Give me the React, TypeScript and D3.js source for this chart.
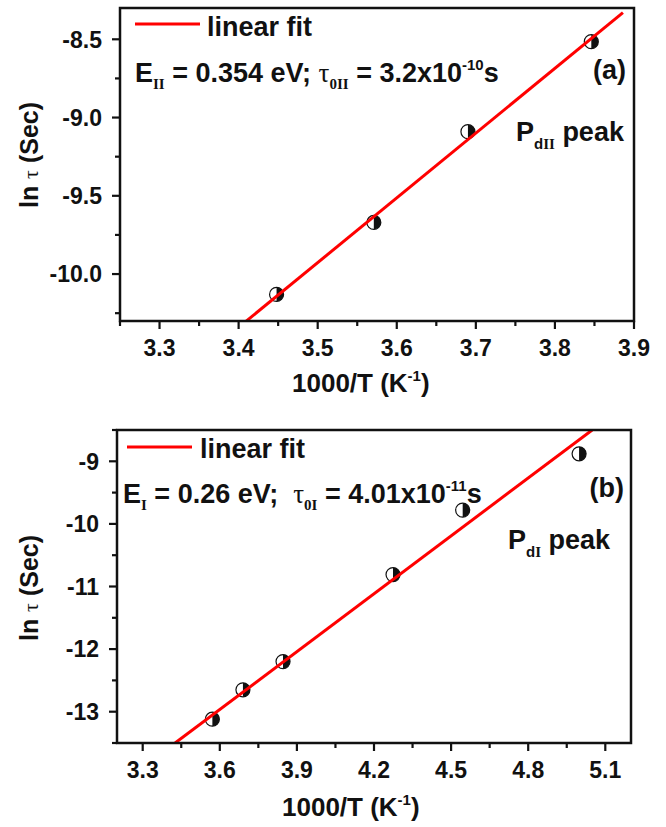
import React from "react";
import * as d3 from "d3";

// ---------- Data ----------
const topX = [3.448, 3.571, 3.69, 3.846];
const topY = [-10.13, -9.67, -9.09, -8.515];
const topFitX = [3.405, 3.886];
const topFitY = [-10.32, -8.33];
const topXTicks = [3.3, 3.4, 3.5, 3.6, 3.7, 3.8, 3.9];
const topXMinor = [3.25, 3.35, 3.45, 3.55, 3.65, 3.75, 3.85];
const topYTicks = [-10.0, -9.5, -9.0, -8.5];
const topYMinor = [-10.25, -9.75, -9.25, -8.75];

const botX = [3.571, 3.69, 3.846, 4.274, 4.545, 4.998];
const botY = [-13.12, -12.65, -12.2, -10.81, -9.78, -8.88];
const botFitX = [3.426, 5.049];
const botFitY = [-13.5, -8.5];
const botXTicks = [3.3, 3.6, 3.9, 4.2, 4.5, 4.8, 5.1];
const botXMinor = [3.45, 3.75, 4.05, 4.35, 4.65, 4.95];
const botYTicks = [-13, -12, -11, -10, -9];
const botYMinor = [-13.5, -12.5, -11.5, -10.5, -9.5, -8.5];

const SANS = "'Liberation Sans', Arial, Helvetica, sans-serif";
const SERIF = "'Liberation Serif', 'Times New Roman', serif";

const hyph = (f: (v: number) => string) => (v: number) => f(v).replace("\u2212", "-");

type PanelProps = {
  id: string;
  xDomain: [number, number];
  yDomain: [number, number];
  xRange: [number, number];
  yRange: [number, number];
  xs: number[];
  ys: number[];
  fitX: number[];
  fitY: number[];
  xTicks: number[];
  xMinor: number[];
  yTicks: number[];
  yMinor: number[];
  yFmt: (v: number) => string;
  r: number;
};

function Panel(p: PanelProps) {
  const x = d3.scaleLinear().domain(p.xDomain).range(p.xRange);
  const y = d3.scaleLinear().domain(p.yDomain).range(p.yRange);
  const [x0, x1] = p.xRange;
  const [y0, y1] = p.yRange; // y0 bottom, y1 top
  const line = d3
    .line<number>()
    .x((_, i) => x(p.fitX[i]))
    .y((_, i) => y(p.fitY[i]));
  const xf = hyph(d3.format(".1f"));
  return (
    <g>
      <defs>
        <clipPath id={`clip-${p.id}`}>
          <rect x={x0} y={y1} width={x1 - x0} height={y0 - y1} />
        </clipPath>
      </defs>
      {p.xTicks.map((t) => (
        <g key={`xt${t}`}>
          <line x1={x(t)} x2={x(t)} y1={y0} y2={y0 + 8} stroke="#111" strokeWidth={2.2} />
          <text
            x={x(t)}
            y={y0 + 35}
            textAnchor="middle"
            fontSize={23}
            fontWeight="bold"
            fontFamily={SANS}
            fill="#111"
          >
            {xf(t)}
          </text>
        </g>
      ))}
      {p.xMinor.map((t) => (
        <line key={`xm${t}`} x1={x(t)} x2={x(t)} y1={y0} y2={y0 + 5} stroke="#111" strokeWidth={2.2} />
      ))}
      {p.yTicks.map((t) => (
        <g key={`yt${t}`}>
          <line x1={x0 - 8} x2={x0} y1={y(t)} y2={y(t)} stroke="#111" strokeWidth={2.2} />
          <text
            x={x0 - 18}
            y={y(t)}
            dy="0.36em"
            textAnchor="end"
            fontSize={23}
            fontWeight="bold"
            fontFamily={SANS}
            fill="#111"
          >
            {p.yFmt(t)}
          </text>
        </g>
      ))}
      {p.yMinor.map((t) => (
        <line key={`ym${t}`} x1={x0 - 5} x2={x0} y1={y(t)} y2={y(t)} stroke="#111" strokeWidth={2.2} />
      ))}
      {p.xs.map((v, i) => (
        <g key={`m${i}`} transform={`translate(${x(v)},${y(p.ys[i])})`}>
          <circle r={p.r} fill="#fff" stroke="#111" strokeWidth={1.2} />
          <path d={`M0,${-p.r} A${p.r},${p.r} 0 0 1 0,${p.r} Z`} fill="#111" />
        </g>
      ))}
      <path
        d={line(p.fitX) || ""}
        fill="none"
        stroke="#ff0000"
        strokeWidth={3}
        clipPath={`url(#clip-${p.id})`}
      />
      <rect x={x0} y={y1} width={x1 - x0} height={y0 - y1} fill="none" stroke="#111" strokeWidth={2.5} />
    </g>
  );
}

export default function App() {
  const txt = {
    fontFamily: SANS,
    fontWeight: "bold" as const,
    fill: "#111",
    style: { whiteSpace: "pre" as const },
  };
  return (
    <svg
      width={666}
      height={827}
      style={{ position: "absolute", left: 0, top: 0, background: "#fff" }}
    >
      <rect width={666} height={827} fill="#fff" />
      <Panel
        id="a"
        xDomain={[3.25, 3.9]}
        yDomain={[-10.3, -8.3]}
        xRange={[120, 634]}
        yRange={[321, 8]}
        xs={topX}
        ys={topY}
        fitX={topFitX}
        fitY={topFitY}
        xTicks={topXTicks}
        xMinor={topXMinor}
        yTicks={topYTicks}
        yMinor={topYMinor}
        yFmt={hyph(d3.format(".1f"))}
        r={7}
      />
      <Panel
        id="b"
        xDomain={[3.2, 5.2]}
        yDomain={[-13.5, -8.5]}
        xRange={[117, 631]}
        yRange={[743, 430]}
        xs={botX}
        ys={botY}
        fitX={botFitX}
        fitY={botFitY}
        xTicks={botXTicks}
        xMinor={botXMinor}
        yTicks={botYTicks}
        yMinor={botYMinor}
        yFmt={hyph(d3.format("d"))}
        r={7}
      />

      {/* ---- top panel annotations ---- */}
      <line x1={135} x2={200} y1={24} y2={24} stroke="#ff0000" strokeWidth={3} />
      <text x={207} y={36} fontSize={27} {...txt}>linear fit</text>
      <text x={135} y={82} fontSize={27} {...txt}>
        E
        <tspan fontFamily={SERIF} fontSize={15} dy={7}>II</tspan>
        <tspan dy={-7}> = 0.354 eV; </tspan>
        <tspan fontFamily={SERIF} fontWeight="normal">τ</tspan>
        <tspan fontFamily={SERIF} fontSize={15} dy={7}>0II</tspan>
        <tspan dy={-7}> = 3.2x10</tspan>
        <tspan fontSize={15} dy={-12}>-10</tspan>
        <tspan dy={12}>s</tspan>
      </text>
      <text x={626} y={79} fontSize={27} textAnchor="end" {...txt}>(a)</text>
      <text x={516} y={141} fontSize={27} {...txt}>
        P
        <tspan fontSize={15} dy={8}>d</tspan>
        <tspan fontFamily={SERIF} fontSize={15}>II</tspan>
        <tspan dy={-8}> peak</tspan>
      </text>
      <text x={292} y={392} fontSize={26} {...txt}>
        1000/T (K
        <tspan fontSize={15} dy={-11}>-1</tspan>
        <tspan dy={11}>)</tspan>
      </text>
      <text transform="translate(38,155) rotate(-90)" textAnchor="middle" fontSize={25} {...txt}>
        ln <tspan fontFamily={SERIF} fontWeight="normal" fontSize={22}>τ</tspan> (Sec)
      </text>

      {/* ---- bottom panel annotations ---- */}
      <line x1={127} x2={192} y1={447} y2={447} stroke="#ff0000" strokeWidth={3} />
      <text x={200} y={458} fontSize={27} {...txt}>linear fit</text>
      <text x={123} y={503} fontSize={27} {...txt}>
        E
        <tspan fontFamily={SERIF} fontSize={15} dy={7}>I</tspan>
        <tspan dy={-7}>{" = 0.26 eV;  "}</tspan>
        <tspan fontFamily={SERIF} fontWeight="normal">τ</tspan>
        <tspan fontFamily={SERIF} fontSize={15} dy={7}>0I</tspan>
        <tspan dy={-7}> = 4.01x10</tspan>
        <tspan fontSize={15} dy={-12}>-11</tspan>
        <tspan dy={12}>s</tspan>
      </text>
      <text x={624} y={497} fontSize={27} textAnchor="end" {...txt}>(b)</text>
      <text x={508} y={549} fontSize={27} {...txt}>
        P
        <tspan fontSize={15} dy={8}>d</tspan>
        <tspan fontFamily={SERIF} fontSize={15}>I</tspan>
        <tspan dy={-8}> peak</tspan>
      </text>
      <text x={282} y={816} fontSize={26} {...txt}>
        1000/T (K
        <tspan fontSize={15} dy={-11}>-1</tspan>
        <tspan dy={11}>)</tspan>
      </text>
      <text transform="translate(38,588) rotate(-90)" textAnchor="middle" fontSize={25} {...txt}>
        ln <tspan fontFamily={SERIF} fontWeight="normal" fontSize={22}>τ</tspan> (Sec)
      </text>
    </svg>
  );
}
